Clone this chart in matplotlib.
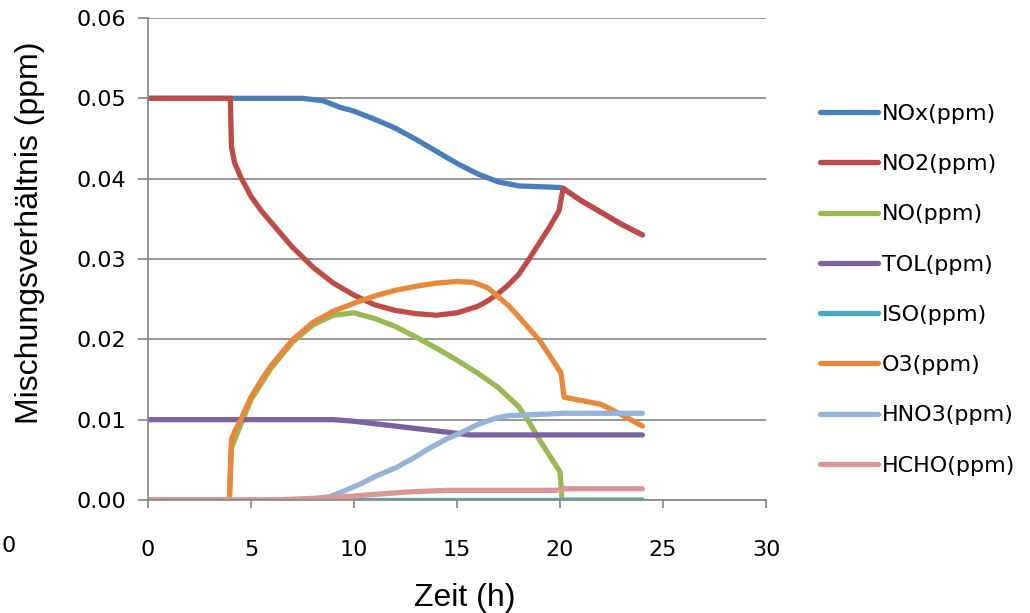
import numpy as np
import matplotlib.pyplot as plt
from matplotlib.ticker import FormatStrFormatter

# Zeitverlauf (h) und Mischungsverhältnisse (ppm) je Spezies
t_nox = [0, 7.5, 8.5, 9.3, 10, 11, 12, 13, 14, 15, 16, 17, 18, 19, 20, 20.15, 21, 22, 23, 24]
nox = [0.05, 0.05, 0.0497, 0.0489, 0.0484, 0.0474, 0.0463, 0.0449, 0.0434, 0.0419, 0.0406,
       0.0396, 0.0391, 0.0390, 0.0389, 0.0388, 0.0373, 0.0358, 0.0343, 0.0330]

t_no2 = [0, 4.0, 4.05, 4.2, 4.5, 5, 5.5, 6, 7, 8, 9, 10, 11, 12, 13, 14, 15, 16, 16.5, 17,
         17.5, 18, 18.5, 19, 19.5, 19.95, 20.15, 21, 22, 23, 24]
no2 = [0.05, 0.05, 0.0440, 0.0420, 0.0402, 0.0378, 0.0360, 0.0345, 0.0315, 0.0290, 0.0270,
       0.0255, 0.0243, 0.0236, 0.0232, 0.0230, 0.0233, 0.0241, 0.0248, 0.0257, 0.0268,
       0.0281, 0.0300, 0.0320, 0.0340, 0.0360, 0.0388, 0.0373, 0.0358, 0.0343, 0.0330]

t_no = [0, 3.95, 4.05, 5, 6, 7, 8, 9, 10, 11, 12, 13, 14, 15, 16, 17, 18, 18.5, 19, 19.5,
        20, 20.1, 24]
no = [0, 0, 0.0065, 0.0125, 0.0165, 0.0196, 0.0218, 0.0230, 0.0233, 0.0226, 0.0216, 0.0203,
      0.0189, 0.0174, 0.0158, 0.0140, 0.0116, 0.0097, 0.0075, 0.0055, 0.0035, 0, 0]

t_tol = [0, 9.0, 10, 11, 12, 13, 14, 15, 15.6, 24]
tol = [0.01, 0.01, 0.0098, 0.0095, 0.0092, 0.0089, 0.0086, 0.0083, 0.0081, 0.0081]

t_iso = [0, 24]
iso = [0, 0]

t_o3 = [0, 3.95, 4.05, 4.2, 4.5, 5, 5.5, 6, 7, 8, 9, 10, 11, 12, 13, 14, 15, 15.8, 16.5, 17,
        17.5, 18, 19, 19.7, 20.05, 20.2, 21, 22, 23, 24]
o3 = [0, 0, 0.0075, 0.0085, 0.0100, 0.0128, 0.0149, 0.0168, 0.0199, 0.0221, 0.0235, 0.0245,
      0.0254, 0.0261, 0.0266, 0.0270, 0.0272, 0.0271, 0.0264, 0.0253, 0.0242, 0.0228,
      0.0199, 0.0172, 0.0158, 0.0128, 0.0124, 0.0119, 0.0106, 0.0092]

t_hno3 = [0, 7.5, 8, 8.8, 9.5, 10.4, 11, 12.1, 13, 13.7, 14.5, 15.3, 16, 16.9, 17.5, 18.5, 20.2, 24]
hno3 = [0, 0, 0.0001, 0.0004, 0.0011, 0.0021, 0.0029, 0.0041, 0.0054, 0.0065, 0.0076, 0.0085,
        0.0094, 0.0102, 0.0105, 0.0106, 0.0108, 0.0108]

t_hcho = [0, 6, 8, 9.5, 11, 12.6, 14.5, 19.8, 20.2, 24]
hcho = [0, 0, 0.0002, 0.0004, 0.0007, 0.0010, 0.0012, 0.0012, 0.0014, 0.0014]

series = [
    (t_nox, nox, "NOx(ppm)", "#4A7EBB"),
    (t_no2, no2, "NO2(ppm)", "#BE4B48"),
    (t_no, no, "NO(ppm)", "#98B954"),
    (t_tol, tol, "TOL(ppm)", "#7D60A0"),
    (t_iso, iso, "ISO(ppm)", "#46AAC5"),
    (t_o3, o3, "O3(ppm)", "#E8883A"),
    (t_hno3, hno3, "HNO3(ppm)", "#95B3D7"),
    (t_hcho, hcho, "HCHO(ppm)", "#D99694"),
]

fig = plt.figure(figsize=(10.30, 6.13), dpi=100)
ax = fig.add_axes([148 / 1030, 1 - 500 / 613, 618 / 1030, 482 / 613])

for t, v, name, col in series:
    ax.plot(t, v, color=col, lw=3.8, label=name, solid_capstyle="round",
            solid_joinstyle="round")

ax.set_xlim(0, 30)
ax.set_ylim(0, 0.06)
ax.set_xticks(np.arange(0, 31, 5))
ax.set_yticks(np.arange(0, 0.061, 0.01))
ax.yaxis.set_major_formatter(FormatStrFormatter("%.2f"))
ax.grid(axis="y", color="#8c8c8c", lw=1.3)
ax.set_axisbelow(True)
for s in ["top", "right"]:
    ax.spines[s].set_visible(False)
for s in ["left", "bottom"]:
    ax.spines[s].set_color("#8c8c8c")
    ax.spines[s].set_linewidth(1.3)
ax.tick_params(axis="x", direction="out", length=6, width=1.3, color="#8c8c8c",
               pad=23, labelsize=16)
ax.tick_params(axis="y", direction="out", length=7, width=1.3, color="#8c8c8c",
               pad=9, labelsize=16)

fig.text(465 / 1030, 1 - 598 / 613, "Zeit (h)", family="Liberation Sans", fontsize=23,
         ha="center", va="center")
fig.text(30 / 1030, 1 - 233 / 613, "Mischungsverhältnis (ppm)", family="Liberation Sans",
         fontsize=23, rotation=90, ha="center", va="center")
fig.text(0.001, 1 - 546 / 613, "0", fontsize=16, ha="left", va="center")

fig.legend(loc="upper left", bbox_to_anchor=(820 / 1030, 1 - 104 / 613), frameon=False,
           fontsize=16, handlelength=2.6, handletextpad=0.2, labelspacing=1.36,
           borderpad=0, borderaxespad=0)

fig.savefig("out.png", dpi=100)
